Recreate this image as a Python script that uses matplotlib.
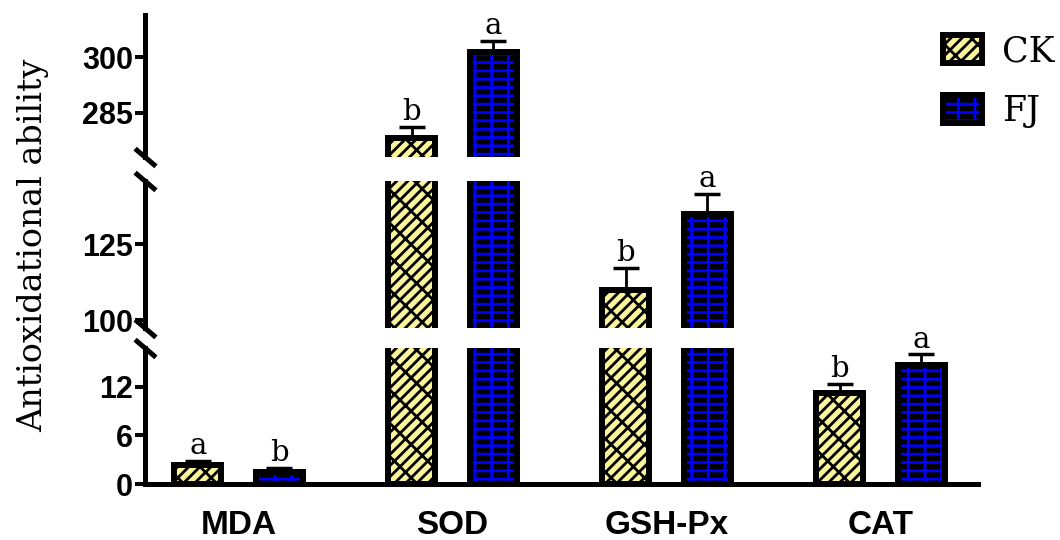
import numpy as np
import matplotlib.pyplot as plt
from matplotlib.patches import Patch

# ---- data ----
categories = ["MDA", "SOD", "GSH-Px", "CAT"]
ck_mean = [2.3, 278.3, 110.0, 11.2]
ck_err = [0.6, 2.9, 7.0, 1.1]
fj_mean = [1.5, 301.3, 135.0, 14.7]
fj_err = [0.5, 3.0, 6.3, 1.3]
ck_letters = ["a", "b", "b", "b"]
fj_letters = ["b", "a", "a", "a"]

# y ranges / ticks of the three stacked panels (bottom, middle, top)
seg_limits = [(0, 16.8), (97.4, 145.7), (273.2, 311.3)]
seg_ticks = [[0, 6, 12], [100, 125], [285, 300]]

# ---- style ----
plt.rcParams["hatch.linewidth"] = 2.0
SANS = "Liberation Sans"
SERIF = "DejaVu Serif"
ck_style = dict(facecolor="#FAF59A", hatch="///\\", edgecolor="black")
fj_style = dict(facecolor="black", hatch="--|", edgecolor="#0000FF")
edge_lw = 4.3
width = 0.22
offset = 0.19

fig = plt.figure(figsize=(10.6, 5.4), dpi=100)
left, w = 0.1368, 0.7858
ax_bot = fig.add_axes([left, 0.1037, w, 0.2519])
ax_mid = fig.add_axes([left, 0.3926, w, 0.2722], sharex=ax_bot)
ax_top = fig.add_axes([left, 0.7093, w, 0.263], sharex=ax_bot)
axes = [ax_bot, ax_mid, ax_top]

x = np.arange(len(categories))

for ax, lim, ticks in zip(axes, seg_limits, seg_ticks):
    for xs, mean, err, letters, style in [
        (x - offset, ck_mean, ck_err, ck_letters, ck_style),
        (x + offset, fj_mean, fj_err, fj_letters, fj_style),
    ]:
        # patterned fill, then a thick black outline on top
        ax.bar(xs, mean, width, linewidth=0, **style)
        ax.bar(xs, mean, width, fill=False, edgecolor="black",
               linewidth=edge_lw, joinstyle="miter")
        ax.errorbar(xs, mean, yerr=[np.zeros(len(err)), err], fmt="none",
                    ecolor="black", elinewidth=2, capsize=9.5, capthick=2.5)
        for xi, m, e, t in zip(xs, mean, err, letters):
            ax.annotate(t, (xi, m + e), xytext=(0, 5), textcoords="offset points",
                        ha="center", va="baseline", fontsize=21, family=SERIF)

    ax.set_ylim(*lim)
    ax.set_yticks(ticks)
    for s in ["top", "right", "bottom"]:
        ax.spines[s].set_visible(False)
    ax.spines["left"].set_linewidth(3.6)
    ax.tick_params(axis="y", length=7, width=2.9, pad=1.5, labelsize=22)
    for lbl in ax.get_yticklabels():
        lbl.set_fontfamily(SANS)
        lbl.set_fontweight("bold")
    ax.patch.set_visible(False)

for ax in [ax_mid, ax_top]:
    ax.tick_params(axis="x", bottom=False, labelbottom=False)

ax_bot.spines["bottom"].set_visible(True)
ax_bot.spines["bottom"].set_linewidth(3.6)
ax_bot.set_xlim(-0.437, 3.456)
ax_bot.set_xticks(x)
ax_bot.set_xticklabels(categories, fontsize=24, fontweight="bold", family=SANS)
ax_bot.tick_params(axis="x", length=0, pad=19)

# break marks on the y axis
slash = dict(marker=[(-1, 0.85), (1, -0.85)], markersize=15, linestyle="none",
             color="black", mec="black", mew=3.6, clip_on=False)
ax_top.plot([0], [0], transform=ax_top.transAxes, **slash)
ax_mid.plot([0, 0], [0, 1], transform=ax_mid.transAxes, **slash)
ax_bot.plot([0], [1], transform=ax_bot.transAxes, **slash)

fig.text(0.031, 0.546, "Antioxidational ability", rotation=90, ha="center",
         va="center", fontsize=24, family=SERIF)

handles = [
    (Patch(linewidth=0, **ck_style), Patch(fill=False, edgecolor="black", linewidth=edge_lw)),
    (Patch(linewidth=0, **fj_style), Patch(fill=False, edgecolor="black", linewidth=edge_lw)),
]
fig.legend(handles, ["CK", "FJ"], loc="upper left", bbox_to_anchor=(0.89, 0.937),
           frameon=False, borderpad=0, borderaxespad=0, handlelength=1.1,
           handleheight=0.9, handletextpad=0.6, labelspacing=0.75,
           prop={"family": SERIF, "size": 25})

fig.savefig("out.png", dpi=100)
